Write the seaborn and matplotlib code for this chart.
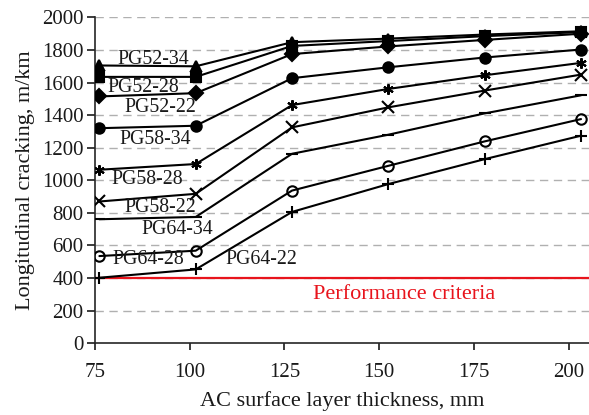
import pandas as pd
import matplotlib
matplotlib.use('Agg')
import matplotlib.pyplot as plt
import seaborn as sns

sns.set_style('ticks')
plt.rcParams['font.family'] = ['Liberation Serif', 'DejaVu Serif']

thickness = [76.2, 101.6, 127.0, 152.4, 177.8, 203.2]

pg52_34 = [1705, 1700, 1848, 1870, 1895, 1915]
pg52_28 = [1635, 1635, 1825, 1855, 1885, 1910]
pg52_22 = [1515, 1535, 1775, 1822, 1862, 1900]
pg58_34 = [1320, 1335, 1627, 1694, 1754, 1803]
pg58_28 = [1065, 1100, 1462, 1561, 1645, 1721]
pg58_22 = [870, 917, 1325, 1448, 1551, 1649]
pg64_34 = [761, 775, 1163, 1280, 1411, 1522]
pg64_28 = [535, 568, 937, 1089, 1239, 1376]
pg64_22 = [402, 453, 806, 977, 1130, 1274]

criteria = 400

series = [
    ('PG52-34', pg52_34, '^', 'black'),
    ('PG52-28', pg52_28, 's', 'black'),
    ('PG52-22', pg52_22, 'D', 'black'),
    ('PG58-34', pg58_34, 'o', 'black'),
    ('PG58-28', pg58_28, (6, 2, 0), 'black'),
    ('PG58-22', pg58_22, 'x', 'black'),
    ('PG64-34', pg64_34, '_', 'black'),
    ('PG64-28', pg64_28, 'o', 'none'),
    ('PG64-22', pg64_22, '+', 'black'),
]

# label spots
label_pos = {
    'PG52-34': (90.3, 1741), 'PG52-28': (87.7, 1569), 'PG52-22': (92.2, 1446),
    'PG58-34': (90.8, 1249), 'PG58-28': (88.7, 1003), 'PG58-22': (92.2, 831),
    'PG64-34': (96.6, 695), 'PG64-28': (89.0, 511), 'PG64-22': (119.0, 511),
}

fig = plt.figure(figsize=(5.89, 4.15), dpi=100)
ax = fig.add_axes([0.161, 0.173, 0.839, 0.785])

for y in range(200, 2001, 200):
    ax.axhline(y, color='#b0b0b0', lw=1.0, ls=(0, (6, 4)), zorder=0)

ax.axhline(criteria, color='#e8141c', lw=1.6, zorder=1)

for name, vals, mk, fc in series:
    df = pd.DataFrame({'x': thickness, 'y': vals})
    sns.lineplot(data=df, x='x', y='y', ax=ax, color='black', lw=1.5,
                 marker=mk, markersize=7.5 if mk not in ('_', '+', 'x') else 8.5,
                 markerfacecolor=fc, markeredgecolor='black', markeredgewidth=1.5,
                 zorder=3)
    lx, ly = label_pos[name]
    ax.text(lx, ly, name, ha='center', va='center', fontsize=14.3, color='#1a1a1a')

ax.text(156.5, 297, 'Performance criteria', ha='center', va='center',
        fontsize=16, color='#e8141c')

ax.set_xlim(75, 205.3)
ax.set_ylim(0, 2000)
ax.set_xticks([75, 100, 125, 150, 175, 200])
ax.set_yticks(range(0, 2001, 200))
ax.tick_params(labelsize=15, length=6, width=1.2, pad=2, color='#1a1a1a', labelcolor='#1a1a1a')
ax.tick_params(axis='x', length=5, pad=9)
ax.set_xlabel('AC surface layer thickness, mm', fontsize=16, color='#1a1a1a', labelpad=7)
ax.set_ylabel('Longitudinal cracking, m/km', fontsize=16, color='#1a1a1a', labelpad=5)
sns.despine(ax=ax)
ax.spines['left'].set_linewidth(1.2)
ax.spines['bottom'].set_linewidth(1.2)

fig.savefig('out.png', dpi=100)
